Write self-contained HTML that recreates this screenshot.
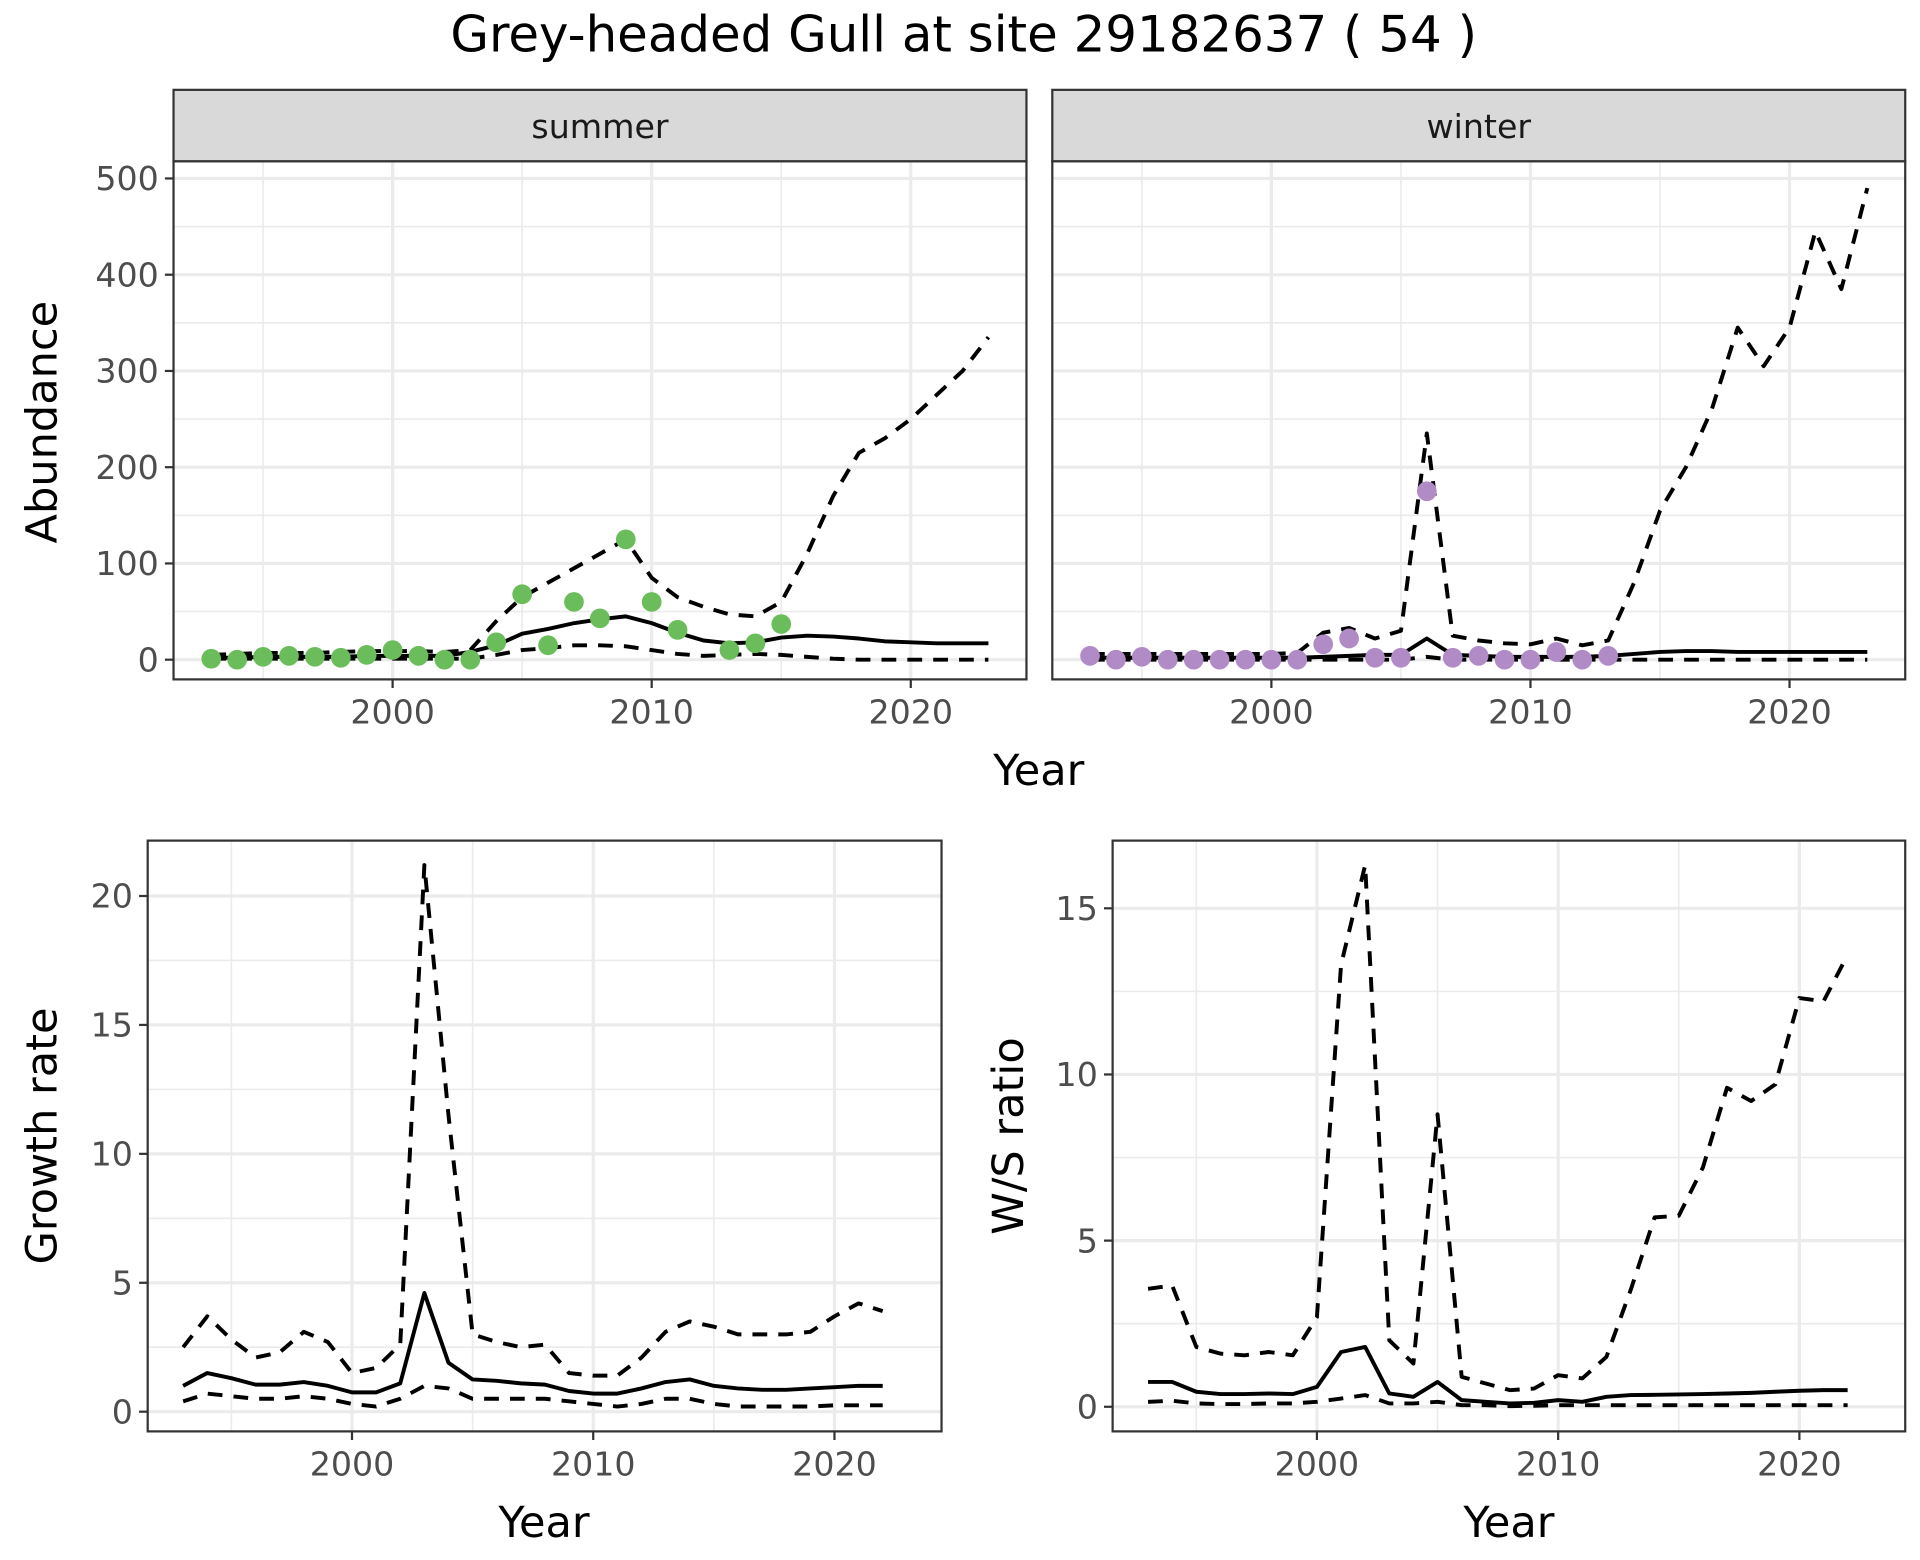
<!DOCTYPE html>
<html><head><meta charset="utf-8"><style>
html,body{margin:0;padding:0;background:#fff;}
svg{display:block;font-family:"DejaVu Sans","Liberation Sans",sans-serif;}
</style></head><body>
<svg id="fig" width="1920" height="1560" viewBox="0 0 1560 1267.5" preserveAspectRatio="none" xmlns="http://www.w3.org/2000/svg">
<rect width="1560" height="1267.5" fill="#fff"/>
<text x="783" y="42" font-size="40.5" text-anchor="middle" fill="#000">Grey-headed Gull at site 29182637 ( 54 )</text>
</svg>
<script>
// ---- data ----
const yearsAbund = [1993,1994,1995,1996,1997,1998,1999,2000,2001,2002,2003,2004,2005,2006,2007,2008,2009,2010,2011,2012,2013,2014,2015,2016,2017,2018,2019,2020,2021,2022,2023];
const summerMean = [2,2,3,3,3,3,4,4,4,4,8,15,27,32,38,42,45,38,28,20,17,18,23,25,24,22,19,18,17,17,17];
const summerUpper = [5,6,7,7,7,8,9,9,9,8,10,40,65,80,95,110,125,85,65,55,47,45,60,110,170,215,230,250,275,300,335];
const summerLower = [1,1,1,1,1,1,1,1,1,1,1,5,10,12,15,15,14,10,6,4,5,6,5,3,1,0,0,0,0,0,0];
const summerObsYears = [1993,1994,1995,1996,1997,1998,1999,2000,2001,2002,2003,2004,2005,2006,2007,2008,2009,2010,2011,2013,2014,2015];
const summerObs = [1,0,3,4,3,2,5,10,4,0,0,18,68,15,60,43,125,60,31,10,17,37];
const winterMean = [2,2,2,2,2,2,2,2,2,3,4,5,5,22,5,4,3,3,3,3,4,6,8,9,9,8,8,8,8,8,8];
const winterUpper = [6,6,6,6,6,6,6,6,7,28,33,22,30,235,25,20,17,16,22,15,20,80,155,200,260,345,305,345,445,385,490];
const winterLower = [0,0,0,0,0,0,0,0,0,0,0,0,0,3,0,0,0,0,0,0,0,0,0,0,0,0,0,0,0,0,0];
const winterObsYears = [1993,1994,1995,1996,1997,1998,1999,2000,2001,2002,2003,2004,2005,2006,2007,2008,2009,2010,2011,2012,2013];
const winterObs = [4,0,3,0,0,0,0,0,0,16,22,2,2,175,2,4,0,0,8,0,4];
const yearsRate = [1993,1994,1995,1996,1997,1998,1999,2000,2001,2002,2003,2004,2005,2006,2007,2008,2009,2010,2011,2012,2013,2014,2015,2016,2017,2018,2019,2020,2021,2022];
const growthMean = [1.0,1.5,1.3,1.05,1.05,1.15,1.0,0.75,0.75,1.1,4.6,1.9,1.25,1.2,1.1,1.05,0.8,0.7,0.7,0.9,1.15,1.25,1.0,0.9,0.85,0.85,0.9,0.95,1.0,1.0];
const growthUpper = [2.5,3.7,2.8,2.1,2.3,3.1,2.7,1.5,1.7,2.6,21.2,11.5,3.0,2.7,2.5,2.6,1.5,1.4,1.4,2.1,3.1,3.5,3.3,3.0,3.0,3.0,3.1,3.7,4.2,3.9];
const growthLower = [0.4,0.7,0.6,0.5,0.5,0.6,0.5,0.3,0.2,0.5,1.0,0.9,0.5,0.5,0.5,0.5,0.4,0.3,0.2,0.3,0.5,0.5,0.3,0.2,0.2,0.2,0.2,0.25,0.25,0.25];
const ratioMean = [0.75,0.75,0.45,0.38,0.38,0.4,0.38,0.6,1.65,1.8,0.4,0.3,0.75,0.2,0.15,0.1,0.12,0.2,0.15,0.3,0.35,0.36,0.37,0.38,0.4,0.42,0.45,0.48,0.5,0.5];
const ratioUpper = [3.55,3.65,1.8,1.6,1.55,1.65,1.55,2.7,13.3,16.3,2.0,1.3,8.8,0.9,0.7,0.5,0.55,0.95,0.85,1.5,3.5,5.7,5.75,7.2,9.6,9.2,9.7,12.3,12.2,13.6];
const ratioLower = [0.15,0.18,0.1,0.08,0.08,0.1,0.1,0.15,0.25,0.35,0.1,0.1,0.15,0.05,0.05,0.02,0.03,0.05,0.05,0.05,0.05,0.05,0.05,0.05,0.05,0.05,0.05,0.05,0.05,0.05];
const xTicks = [2000,2010,2020];
const xMinor = [1995,2005,2015];
const abundTicks = [0,100,200,300,400,500];
const growthTicks = [0,5,10,15,20];
const ratioTicks = [0,5,10,15];

const svg = document.getElementById('fig');
const NS = 'http://www.w3.org/2000/svg';
function mk(tag, attrs, parent){const e=document.createElementNS(NS,tag);for(const k in attrs)e.setAttribute(k,attrs[k]);(parent||svg).appendChild(e);return e;}
function lin(d0,d1,r0,r1){return v=>r0+(v-d0)*(r1-r0)/(d1-d0);}

function panel(o){
  const g=mk('g',{});
  
  
  const X=lin(2000,2020,o.x2000,o.x2020), Y=lin(0,o.yRefV,o.y0,o.yRef);
  mk('rect',{x:o.l,y:o.t,width:o.r-o.l,height:o.b-o.t,fill:'#fff'},g);
  o.yMinor.forEach(v=>{const gl=mk('line',{x1:o.l,x2:o.r,y1:Y(v),y2:Y(v),stroke:'#ebebeb','stroke-width':1.3},g);});
  xMinor.forEach(v=>{const gl=mk('line',{x1:X(v),x2:X(v),y1:o.t,y2:o.b,stroke:'#ebebeb','stroke-width':1.3},g);});
  o.yTicks.forEach(v=>{const gl=mk('line',{x1:o.l,x2:o.r,y1:Y(v),y2:Y(v),stroke:'#ebebeb','stroke-width':2.6},g);});
  xTicks.forEach(v=>{const gl=mk('line',{x1:X(v),x2:X(v),y1:o.t,y2:o.b,stroke:'#ebebeb','stroke-width':2.6},g);});
  const path=(ys,vals)=>ys.map((yr,i)=>(i?'L':'M')+X(yr).toFixed(1)+','+Y(vals[i]).toFixed(1)).join(' ');
  o.series.forEach(s=>{
    const p=mk('path',{d:path(o.years,s.v),fill:'none',stroke:'#000','stroke-width':3.2,'stroke-dasharray':s.dash?'12,9':'none','stroke-linejoin':'round'},g);
    
    
  });
  if(o.obs){
    o.obs.years.forEach((yr,i)=>{
      const c=mk('circle',{cx:X(yr),cy:Y(o.obs.v[i]),r:8,fill:o.obs.color},g);
      
      
    });
  }
  mk('rect',{x:o.l,y:o.t,width:o.r-o.l,height:o.b-o.t,fill:'none',stroke:'#333','stroke-width':1.8},g);
  xTicks.forEach(v=>{
    mk('line',{x1:X(v),x2:X(v),y1:o.b,y2:o.b+7,stroke:'#333','stroke-width':1.8},g);
    const t=mk('text',{x:X(v),y:o.b+36,'font-size':27,'text-anchor':'middle',fill:'#4d4d4d'},g);
    t.textContent=v;
    
    
  });
  if(o.showY){
    o.yTicks.forEach(v=>{
      mk('line',{x1:o.l-7,x2:o.l,y1:Y(v),y2:Y(v),stroke:'#333','stroke-width':1.8},g);
      const t=mk('text',{x:o.l-12,y:Y(v)+9.5,'font-size':27,'text-anchor':'end',fill:'#4d4d4d'},g);
      t.textContent=v;
      
      
    });
  }
  if(o.strip){
    const sr=mk('rect',{x:o.l,y:73,width:o.r-o.l,height:o.t-73,fill:'#d9d9d9',stroke:'#333','stroke-width':1.8},g);
    
    
    const st=mk('text',{x:(o.l+o.r)/2,y:112,'font-size':27,'text-anchor':'middle',fill:'#1a1a1a'},g);
    st.textContent=o.strip;
    
    
  }
}
panel({name:'summer-panel',l:141,r:834,t:131,b:552,x2000:319,x2020:740,y0:536,yRef:145,yRefV:500,yTicks:abundTicks,yMinor:[50,150,250,350,450],showY:true,strip:'summer',years:yearsAbund,
  series:[{v:summerUpper,dash:true,name:'summer-upper-line'},{v:summerLower,dash:true,name:'summer-lower-line'},{v:summerMean,dash:false,name:'summer-mean-line'}],
  obs:{years:summerObsYears,v:summerObs,color:'#6abd5a'}});
panel({name:'winter-panel',l:855,r:1548,t:131,b:552,x2000:1033,x2020:1454,y0:536,yRef:145,yRefV:500,yTicks:abundTicks,yMinor:[50,150,250,350,450],showY:false,strip:'winter',years:yearsAbund,
  series:[{v:winterUpper,dash:true,name:'winter-upper-line'},{v:winterLower,dash:true,name:'winter-lower-line'},{v:winterMean,dash:false,name:'winter-mean-line'}],
  obs:{years:winterObsYears,v:winterObs,color:'#b18bc6'}});
panel({name:'growth-rate-panel',l:120,r:765,t:683,b:1163,x2000:286,x2020:678,y0:1147,yRef:728,yRefV:20,yTicks:growthTicks,yMinor:[2.5,7.5,12.5,17.5],showY:true,years:yearsRate,
  series:[{v:growthUpper,dash:true,name:'growth-upper-line'},{v:growthLower,dash:true,name:'growth-lower-line'},{v:growthMean,dash:false,name:'growth-mean-line'}]});
panel({name:'ws-ratio-panel',l:904,r:1548,t:683,b:1163,x2000:1070,x2020:1462,y0:1143,yRef:738,yRefV:15,yTicks:ratioTicks,yMinor:[2.5,7.5,12.5],showY:true,years:yearsRate,
  series:[{v:ratioUpper,dash:true,name:'ratio-upper-line'},{v:ratioLower,dash:true,name:'ratio-lower-line'},{v:ratioMean,dash:false,name:'ratio-mean-line'}]});

function label(txt,x,y,rot,name){
  const t=mk('text',{x:x,y:y,'font-size':35,'text-anchor':'middle',fill:'#000'});
  if(rot)t.setAttribute('transform','rotate(-90 '+x+' '+y+')');
  t.textContent=txt;
  
  
}
label('Year',844,638,false,'top-x-axis-title');
label('Abundance',46,343,true,'abundance-y-axis-title');
label('Year',442,1249,false,'growth-x-axis-title');
label('Growth rate',46,923,true,'growth-y-axis-title');
label('Year',1226,1249,false,'ratio-x-axis-title');
label('W/S ratio',831,923,true,'ratio-y-axis-title');
</script>
</body></html>
